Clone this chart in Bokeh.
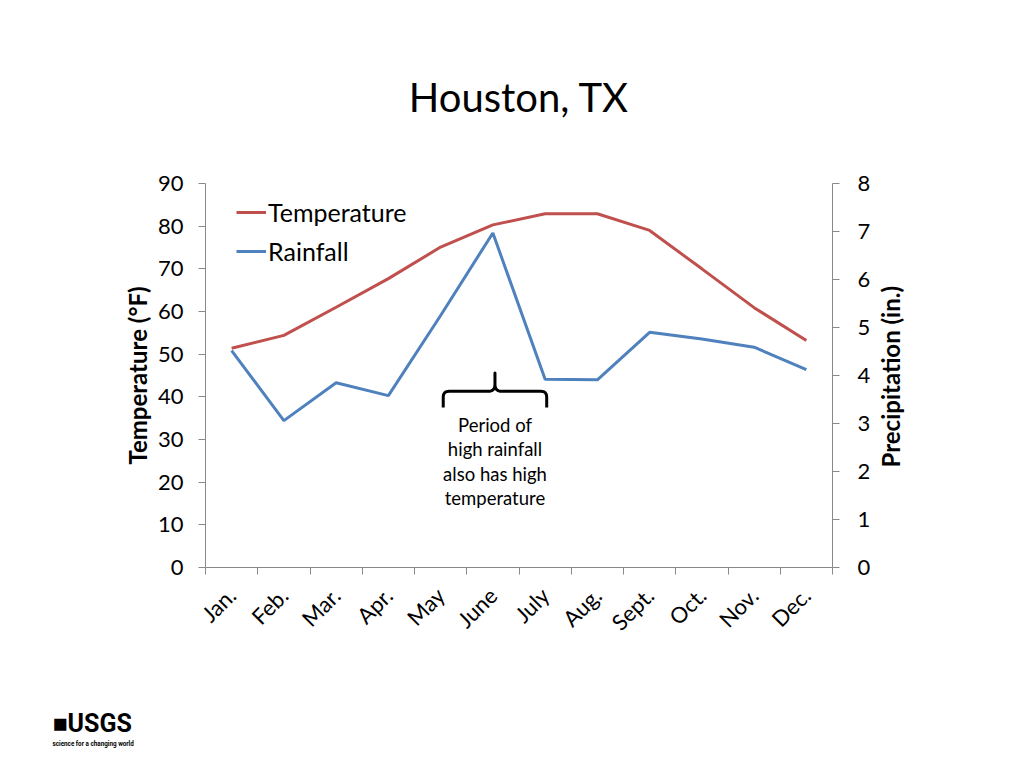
import math
from bokeh.plotting import figure
from bokeh.models import Range1d, LinearAxis, FixedTicker, Legend, LegendItem, Title
from bokeh.core.properties import value
from bokeh.embed import file_html
from bokeh.resources import INLINE

# ---------------- data ----------------
months = ["Jan.", "Feb.", "Mar.", "Apr.", "May", "June",
          "July", "Aug.", "Sept.", "Oct.", "Nov.", "Dec."]
temperature_f = [51.4, 54.4, 61.0, 67.7, 75.1, 80.3, 82.9, 82.9, 79.0, 70.0, 60.9, 53.2]
rainfall_in = [4.52, 3.06, 3.85, 3.58, 5.25, 6.97, 3.92, 3.91, 4.90, 4.76, 4.59, 4.12]
temp_ticks = list(range(0, 91, 10))
rain_ticks = list(range(0, 9))
note_lines = ["Period of", "high rainfall", "also has high", "temperature"]

FONT = "Lato"
AXIS_GRAY = "#898989"
RED = "#C0504D"
BLUE = "#4F81BD"

# category centres at odd positions, boundaries at even positions
xc = [2 * i + 1 for i in range(len(months))]
bounds = list(range(0, 2 * len(months) + 1, 2))

p = figure(width=1008, height=752, output_backend="svg", toolbar_location=None,
           x_range=Range1d(0, 2 * len(months)), y_range=Range1d(0, 90),
           x_axis_type=None, y_axis_type=None,
           min_border_left=205, min_border_right=176,
           min_border_top=183, min_border_bottom=185)
p.extra_y_ranges = {"rain": Range1d(0, 8), "px": Range1d(0, 384)}
p.outline_line_color = None
p.background_fill_color = "white"
p.border_fill_color = "white"

# title
p.title.text = "Houston, TX"
p.title.align = "center"
p.title.text_font = FONT
p.title.text_font_size = "40px"
p.title.text_font_style = "normal"
p.title.text_color = "black"
p.title.standoff = 126


def style_axis(ax):
    ax.axis_line_color = AXIS_GRAY
    ax.major_tick_line_color = AXIS_GRAY
    ax.minor_tick_line_color = AXIS_GRAY
    ax.major_label_text_font = FONT
    ax.major_label_text_font_size = "22px"
    ax.major_label_text_color = "black"
    ax.axis_label_text_font = FONT
    ax.axis_label_text_font_size = "24px"
    ax.axis_label_text_font_style = "bold"
    ax.axis_label_text_color = "black"


# left axis
ax_l = LinearAxis(ticker=FixedTicker(ticks=temp_ticks), axis_label="Temperature (°F)")
style_axis(ax_l)
ax_l.major_tick_out = 7
ax_l.major_tick_in = 0
ax_l.minor_tick_out = 0
ax_l.major_label_standoff = 15
ax_l.axis_label_standoff = 3
p.add_layout(ax_l, "left")

# right axis (ticks + numbers)
ax_r = LinearAxis(ticker=FixedTicker(ticks=rain_ticks), y_range_name="rain")
style_axis(ax_r)
ax_r.major_tick_out = 7
ax_r.major_tick_in = 0
ax_r.minor_tick_out = 0
ax_r.major_label_standoff = 18
p.add_layout(ax_r, "right")

# right axis title, drawn as a single rotated label reading bottom-to-top
TITLE_START = 100  # px above the frame bottom where the title text starts
ax_rt = LinearAxis(ticker=FixedTicker(ticks=[TITLE_START]), y_range_name="px",
                   major_label_overrides={TITLE_START: "Precipitation (in.)"})
ax_rt.axis_line_color = None
ax_rt.major_tick_line_color = None
ax_rt.minor_tick_line_color = None
ax_rt.major_tick_out = 0
ax_rt.major_tick_in = 0
ax_rt.minor_tick_out = 0
ax_rt.major_label_orientation = math.pi / 2
ax_rt.major_label_standoff = 17
ax_rt.major_label_text_font = FONT
ax_rt.major_label_text_font_size = "24px"
ax_rt.major_label_text_font_style = "bold"
ax_rt.major_label_text_color = "black"
p.add_layout(ax_rt, "right")

# bottom axis: ticks at category boundaries, labels at centres
ax_b = LinearAxis(ticker=FixedTicker(ticks=xc, minor_ticks=bounds),
                  major_label_overrides={c: m for c, m in zip(xc, months)})
style_axis(ax_b)
ax_b.major_tick_out = 0
ax_b.major_tick_in = 0
ax_b.minor_tick_out = 7
ax_b.minor_tick_in = 0
ax_b.major_label_orientation = math.pi / 4
ax_b.major_label_standoff = 17
p.add_layout(ax_b, "below")

# series
r_t = p.line(xc, temperature_f, line_color=RED, line_width=3)
r_r = p.line(xc, rainfall_in, y_range_name="rain", line_color=BLUE, line_width=3)

legend = Legend(items=[LegendItem(label="Temperature", renderers=[r_t]),
                       LegendItem(label="Rainfall", renderers=[r_r])],
                location=(31, 300), glyph_width=30, glyph_height=32,
                label_height=32, spacing=7, padding=0, margin=0,
                label_standoff=2, border_line_color=None,
                background_fill_alpha=0, label_text_font=FONT,
                label_text_font_size="25px", label_text_color="black")
p.add_layout(legend)

# curly brace annotation spanning May..July
xl, xr, xm = 9.1, 13.06, 11.08
yb, yh, yt = 37.5, 41.3, 45.6
dx, dy = 0.22, 1.4


def quad(p0, c, p1, n=8):
    pts = []
    for k in range(n + 1):
        t = k / n
        a = (1 - t) ** 2
        b = 2 * (1 - t) * t
        d = t ** 2
        pts.append((a * p0[0] + b * c[0] + d * p1[0], a * p0[1] + b * c[1] + d * p1[1]))
    return pts


path = [(xl, yb), (xl, yh - dy)]
path += quad((xl, yh - dy), (xl, yh), (xl + dx, yh))
path += [(xm - 0.26, yh)]
path += quad((xm - 0.26, yh), (xm, yh), (xm, yh + 1.6))
path += [(xm, yt), (xm, yh + 1.6)]
path += quad((xm, yh + 1.6), (xm, yh), (xm + 0.26, yh))
path += [(xr - dx, yh)]
path += quad((xr - dx, yh), (xr, yh), (xr, yh - dy))
path += [(xr, yb)]
p.line([q[0] for q in path], [q[1] for q in path], line_color="black", line_width=3,
       line_join="round")

note_y = [33.3, 27.7, 22.0, 16.4]
p.text(x=[xm] * len(note_lines), y=note_y, text=note_lines,
       text_font=value(FONT), text_font_size="18.5px", text_align="center",
       text_baseline="middle", text_color="black")

# USGS logo (text-based), placed in the bottom margin
p.add_layout(Title(text=" ", standoff=45, text_font_size="10px"), "below")
p.add_layout(Title(text="■USGS", align="left", offset=-153, standoff=0,
                   text_font="Roboto", text_font_size="25px",
                   text_font_style="bold", text_color="black"), "below")
p.add_layout(Title(text="science for a changing world", align="left", offset=-153,
                   standoff=0, text_font="Roboto",
                   text_font_size="6.3px", text_font_style="bold",
                   text_color="black"), "below")

open("out.html", "w").write(file_html(p, INLINE))
